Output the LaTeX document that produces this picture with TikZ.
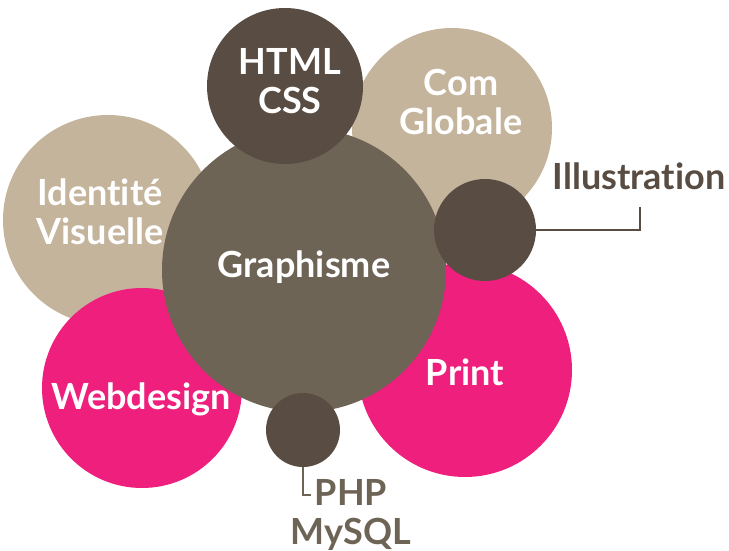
\documentclass[tikz,border=0pt]{standalone}
\usepackage{fontspec}
\setmainfont{Lato}[Ligatures=NoCommon]

\definecolor{beige}{HTML}{C4B49C}
\definecolor{darkbrown}{HTML}{594C42}
\definecolor{greybrown}{HTML}{6E6456}
\definecolor{rose}{HTML}{EE1F7D}

\tikzstyle{bubble} = [circle, inner sep=0pt, text centered]
\tikzstyle{bub_beige} = [bubble, fill=beige]
\tikzstyle{bub_dark} = [bubble, fill=darkbrown]
\tikzstyle{bub_grey} = [bubble, fill=greybrown]
\tikzstyle{bub_rose} = [bubble, fill=rose]
\tikzstyle{txt} = [text=white, align=center, inner sep=0pt, font=\bfseries\fontsize{18}{19.5}\selectfont]
\tikzstyle{legend} = [align=center, inner sep=0pt, font=\bfseries\fontsize{18}{19.5}\selectfont]
\tikzstyle{link} = [line width=1pt]

\begin{document}
\begin{tikzpicture}[x=0.5pt, y=-0.5pt]
\useasboundingbox (0,0) rectangle (729,551);

% Bubbles
\node (ident) [bub_beige, minimum size=105pt] at (108,220) {};
\node (com) [bub_beige, minimum size=100pt] at (452,128) {};
\node (web) [bub_rose, minimum size=100pt] at (142,388) {};
\node (print) [bub_rose, minimum size=107pt] at (465,370) {};
\node (graph) [bub_grey, minimum size=142pt] at (304,270) {};
\node (html) [bub_dark, minimum size=78pt] at (285,86) {};
\node (illus) [bub_dark, minimum size=51pt] at (485,230) {};
\node (php) [bub_dark, minimum size=37pt] at (303,430) {};

% Texts
\node (ident_txt) [txt] at (100,212) {Identité\\Visuelle};
\node (com_txt) [txt] at (461,102) {Com\\Globale};
\node (html_txt) [txt] at (290,81) {HTML\\CSS};
\node (graph_txt) [txt, anchor=base] at (304,278) {Graphisme};
\node (web_txt) [txt, anchor=base] at (141,409) {Webdesign};
\node (print_txt) [txt, anchor=base] at (465,385) {Print};

% Legends
\node (illus_txt) [legend, text=darkbrown, anchor=base] at (639,190) {Illustration};
\node (php_txt) [legend, text=greybrown] at (351,515) {PHP\\MySQL};

\coordinate (illus_end) at (640,207);
\coordinate (php_end) at (311,495);
\draw [link, draw=darkbrown] (illus.east) -| (illus_end);
\draw [link, draw=greybrown] (php.south) |- (php_end);
\end{tikzpicture}
\end{document}
